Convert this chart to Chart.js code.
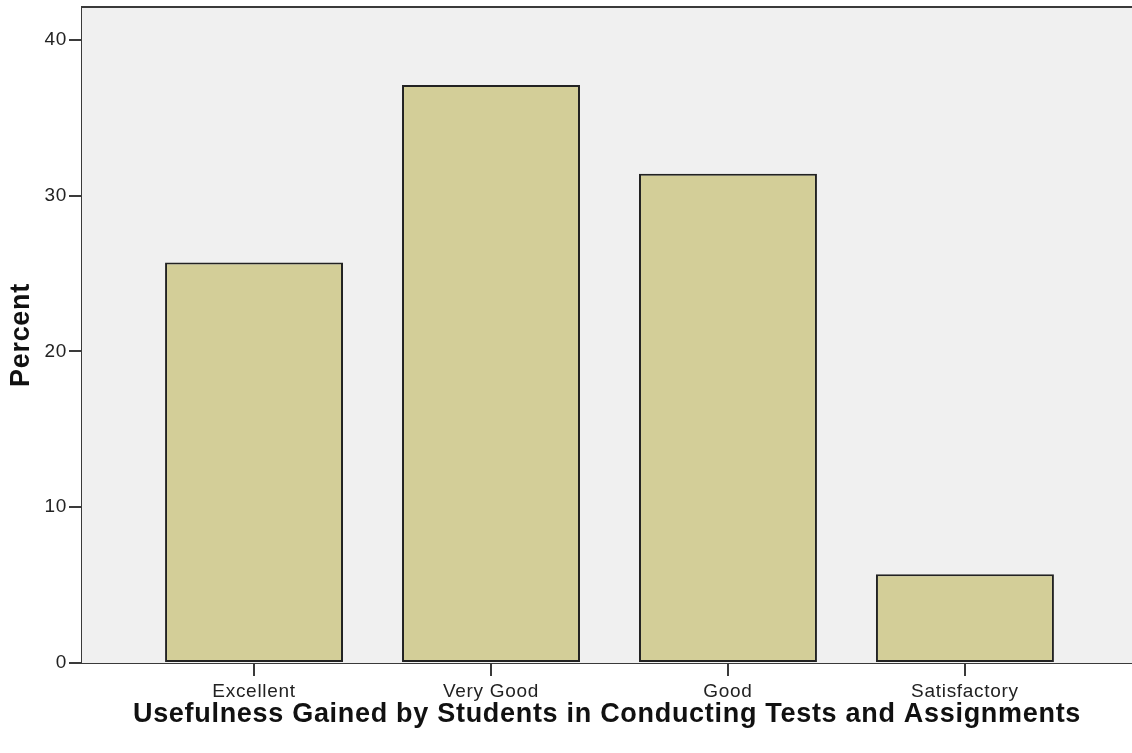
<!DOCTYPE html>
<html>
<head>
<meta charset="utf-8">
<script src="https://cdn.jsdelivr.net/npm/chart.js@4/dist/chart.umd.min.js"></script>
<style>
  html, body { margin: 0; padding: 0; background: #fff; }
  #wrap { width: 1132px; height: 753px; }
</style>
</head>
<body>
<div id="wrap"><canvas id="chart" width="1132" height="753"></canvas></div>
<script>
// categories and percent values
const categories = ['Excellent', 'Very Good', 'Good', 'Satisfactory'];
const percentValues = [25.7, 37.1, 31.4, 5.7];
const yTicks = [0, 10, 20, 30, 40];

const FONT = "'Liberation Sans', Arial, sans-serif";

// plot background, top frame line, slightly spaced text like the original
const plotFrame = {
  id: 'plotFrame',
  beforeLayout(chart) { chart.ctx.letterSpacing = '0.7px'; },
  beforeDraw(chart) { chart.ctx.letterSpacing = '0.7px'; },
  beforeDatasetsDraw(chart) {
    const { ctx, chartArea: a } = chart;
    ctx.save();
    ctx.fillStyle = '#f0f0f0';
    ctx.fillRect(a.left, a.top, a.right - a.left, a.bottom - a.top);
    ctx.restore();
  },
  afterDraw(chart) {
    const { ctx, chartArea: a } = chart;
    ctx.save();
    ctx.strokeStyle = '#3a3a3a';
    ctx.lineWidth = 2;
    ctx.beginPath();
    ctx.moveTo(a.left - 1, a.top);
    ctx.lineTo(a.right + 2, a.top);
    ctx.stroke();
    ctx.restore();
  }
};

new Chart(document.getElementById('chart'), {
  type: 'bar',
  data: {
    datasets: [{
      data: percentValues.map((v, i) => ({ x: i, y: v })),
      backgroundColor: '#d3ce98',
      borderColor: '#222',
      borderWidth: 2,
      borderSkipped: false,
      barPercentage: 0.751,
      categoryPercentage: 1
    }]
  },
  options: {
    responsive: false,
    animation: false,
    layout: { padding: { top: 7, right: 0, left: 0, bottom: 0 } },
    plugins: { legend: { display: false }, tooltip: { enabled: false } },
    scales: {
      x: {
        type: 'linear',
        min: -0.726,
        max: 3.705,
        offset: false,
        afterBuildTicks: s => { s.ticks = categories.map((_, i) => ({ value: i })); },
        afterFit: s => { s.height = 90; s.paddingLeft = 0; s.paddingRight = 0; },
        grid: { offset: false, drawOnChartArea: false, drawTicks: true, tickLength: 13, color: '#3a3a3a', lineWidth: 2 },
        border: { display: true, color: '#3a3a3a', width: 2 },
        ticks: {
          padding: 4,
          autoSkip: false,
          maxRotation: 0,
          color: '#222',
          font: { family: FONT, size: 19 },
          callback: v => categories[v] ?? ''
        },
        title: {
          display: true,
          text: 'Usefulness Gained by Students in Conducting Tests and Assignments',
          color: '#111',
          font: { family: FONT, size: 27, weight: 'bold' },
          padding: { top: 0, bottom: 22 }
        }
      },
      y: {
        min: 0,
        max: 42.1,
        afterBuildTicks: s => { s.ticks = yTicks.map(v => ({ value: v })); },
        afterFit: s => { s.width = 82; s.paddingTop = 0; s.paddingBottom = 0; },
        grid: { drawOnChartArea: false, drawTicks: true, tickLength: 13, color: '#3a3a3a', lineWidth: 2 },
        border: { display: true, color: '#3a3a3a', width: 2 },
        ticks: {
          padding: 2,
          color: '#222',
          font: { family: FONT, size: 19 }
        },
        title: {
          display: true,
          text: 'Percent',
          color: '#111',
          font: { family: FONT, size: 27, weight: 'bold' },
          padding: { top: 5, bottom: 0 }
        }
      }
    }
  },
  plugins: [plotFrame]
});
</script>
</body>
</html>
